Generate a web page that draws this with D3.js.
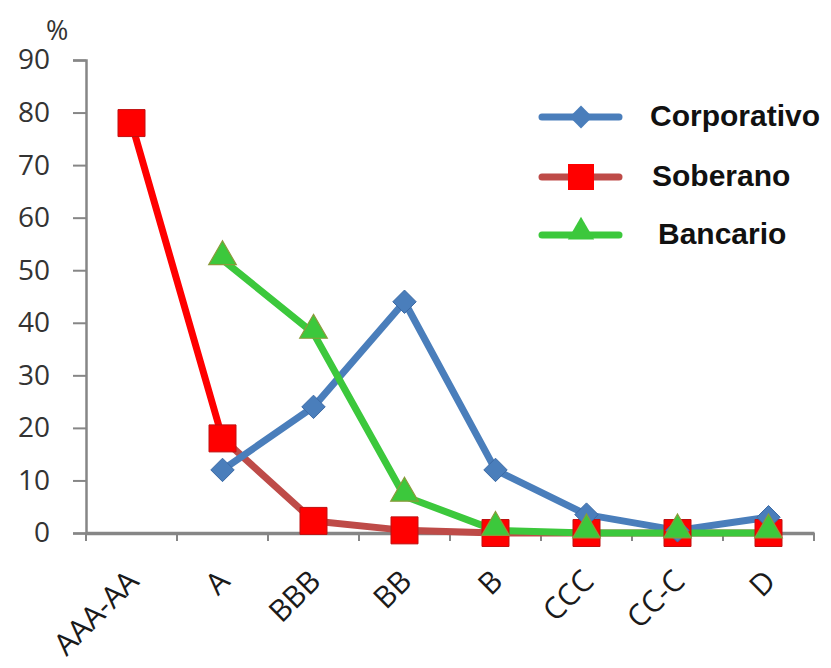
<!DOCTYPE html>
<html><head><meta charset="utf-8">
<script src="https://cdn.jsdelivr.net/npm/d3@7"></script>
<style>html,body{margin:0;padding:0;background:#fff;}</style>
</head><body>
<script>
const categories = ["AAA-AA","A","BBB","BB","B","CCC","CC-C","D"];
const corporativo = [null,12,24,44,12,3.5,0.5,3];
const soberano = [78,18,2.3,0.5,0,0,0,0];
const bancario = [null,52,38,7,0.5,0,0,0];
const yTicks = [0,10,20,30,40,50,60,70,80,90];
const seriesNames = ["Corporativo","Soberano","Bancario"];

const W=831,H=668;
const svg=d3.select("body").append("svg").attr("width",W).attr("height",H);
const x0=86,x1=814,yTop=60,yBot=533;
const x=d3.scaleBand().domain(categories).range([x0,x1]);
const y=d3.scaleLinear().domain([0,90]).range([yBot,yTop]);
const axisColor="#868686";

// y axis
const ya=svg.append("g").attr("transform",`translate(${x0},0)`)
  .call(d3.axisLeft(y).tickValues(yTicks).tickSize(13).tickPadding(23));
ya.select(".domain").attr("stroke",axisColor).attr("stroke-width",2.5);
ya.selectAll(".tick line").attr("stroke",axisColor).attr("stroke-width",2);
ya.selectAll(".tick text").attr("font-family","'Open Sans',sans-serif").attr("font-size",28).attr("fill","#333");

svg.append("text").attr("x",46).attr("y",40).attr("font-family","'Open Sans',sans-serif")
  .attr("font-size",27).attr("fill","#333").text("%");

// x axis
const xa=svg.append("g").attr("transform",`translate(0,${yBot})`)
  .call(d3.axisBottom(x).tickSize(0).tickFormat(""));
xa.select(".domain").attr("stroke",axisColor).attr("stroke-width",3.5);
const between=d3.range(categories.length+1).map(i=>x0+i*x.step());
xa.selectAll("line.sep").data(between).join("line").attr("class","sep")
  .attr("x1",d=>d).attr("x2",d=>d).attr("y1",0).attr("y2",8)
  .attr("stroke",axisColor).attr("stroke-width",2);
const cx=c=>x(c)+x.bandwidth()/2;
svg.selectAll("text.xl").data(categories).join("text").attr("class","xl")
  .attr("transform",c=>`translate(${cx(c)+9},${yBot+50}) rotate(-45)`)
  .attr("text-anchor","end").attr("font-family","'Open Sans',sans-serif")
  .attr("font-size",30).attr("fill","#1a1a1a").text(c=>c);

function pts(vals){return categories.map((c,i)=>({c,v:vals[i]})).filter(d=>d.v!==null);}
const line=d3.line().x(d=>cx(d.c)).y(d=>y(d.v));

const blue="#4a7ebb", red="#ff0000", darkred="#be4b48", green="#3cc83c";

// Soberano segments
const sp=pts(soberano);
for(let i=0;i<sp.length-1;i++){
  svg.append("path").datum([sp[i],sp[i+1]]).attr("d",line).attr("fill","none")
    .attr("stroke",i===0?red:darkred).attr("stroke-width",7).attr("stroke-linecap","round");
}
// Corporativo
svg.append("path").datum(pts(corporativo)).attr("d",line).attr("fill","none")
  .attr("stroke",blue).attr("stroke-width",7).attr("stroke-linejoin","round");
// Bancario
svg.append("path").datum(pts(bancario)).attr("d",line).attr("fill","none")
  .attr("stroke",green).attr("stroke-width",7).attr("stroke-linejoin","round");

const sq=d3.symbol().type(d3.symbolSquare).size(27*27);
const dm=d3.symbol().type(d3.symbolDiamond2).size(350);
const tr=d3.symbol().type(d3.symbolTriangle).size(330);

svg.selectAll("path.sq").data(sp).join("path").attr("class","sq").attr("d",sq)
  .attr("transform",d=>`translate(${cx(d.c)},${y(d.v)})`).attr("fill",red).attr("stroke","#c01010").attr("stroke-width",1);
svg.selectAll("path.dm").data(pts(corporativo)).join("path").attr("class","dm").attr("d",dm)
  .attr("transform",d=>`translate(${cx(d.c)},${y(d.v)})`).attr("fill",blue).attr("stroke","#3c6aa5").attr("stroke-width",1);
svg.selectAll("path.tr").data(pts(bancario)).join("path").attr("class","tr").attr("d",tr)
  .attr("transform",d=>`translate(${cx(d.c)},${y(d.v)-3})`).attr("fill",green).attr("stroke","#8a9a3a").attr("stroke-width",1.2);

// legend
const lg=[{n:seriesNames[0],c:blue,k:"dm",y:117,tx:650},{n:seriesNames[1],c:darkred,k:"sq",y:177,tx:652,mf:red},{n:seriesNames[2],c:green,k:"tr",y:235,tx:658}];
lg.forEach(l=>{
  const g=svg.append("g");
  g.append("line").attr("x1",542).attr("x2",619).attr("y1",l.y).attr("y2",l.y).attr("stroke",l.c).attr("stroke-width",7).attr("stroke-linecap","round");
  const sym = l.k==="sq"? d3.symbol().type(d3.symbolSquare).size(26*26) : l.k==="dm" ? d3.symbol().type(d3.symbolDiamond2).size(330) : d3.symbol().type(d3.symbolTriangle).size(300);
  g.append("path").attr("d",sym).attr("transform",`translate(581,${l.k==="tr"?l.y-3:l.y})`).attr("fill",l.mf||l.c);
  g.append("text").attr("x",l.tx).attr("y",l.y+9).attr("font-family","'Liberation Sans',Arial,sans-serif")
    .attr("font-weight","bold").attr("font-size",30).attr("fill","#111").text(l.n);
});
</script>
</body></html>
